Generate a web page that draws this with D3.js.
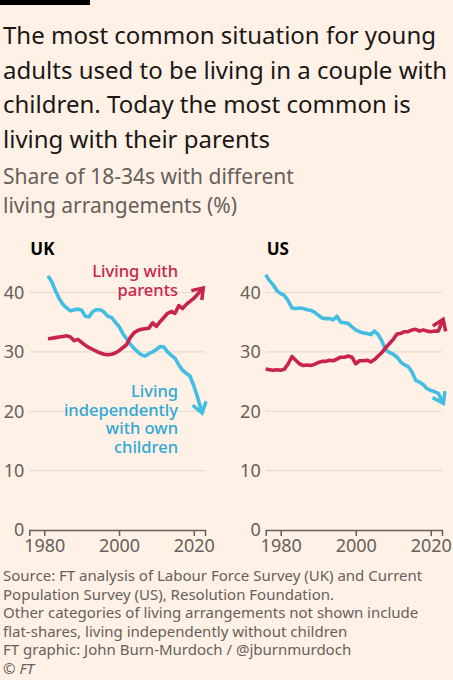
<!DOCTYPE html>
<html>
<head>
<meta charset="utf-8">
<script src="https://cdn.jsdelivr.net/npm/d3@7"></script>
<style>
  body { margin: 0; background: #fff1e5; }
  svg { display: block; font-family: "Noto Sans", sans-serif; }
</style>
</head>
<body>
<div id="chart"></div>
<script>
// tick labels
const yTicks = [0, 10, 20, 30, 40];
const xTicks = [1980, 2000, 2020];

// UK, 1981-2022
const ukYears = d3.range(1981, 2023);
const ukParents = [32.2, 32.3, 32.4, 32.5, 32.6, 32.7, 32.5, 31.9, 32.1, 31.6,
  31.1, 30.7, 30.4, 30.1, 29.8, 29.6, 29.5, 29.6, 29.8, 30.2,
  30.7, 31.2, 32.4, 33.2, 33.6, 33.8, 33.9, 34.0, 34.9, 34.3,
  35.1, 35.8, 36.5, 36.8, 36.5, 37.8, 37.3, 38.0, 38.5, 39.0,
  39.7, 40.4];
const ukOwnChildren = [42.8, 41.8, 40.3, 39.0, 38.0, 37.4, 36.9, 37.1, 37.2, 37.0,
  36.0, 35.9, 36.8, 37.1, 37.1, 36.7, 36.0, 35.8, 35.0, 34.3,
  33.1, 32.2, 31.3, 30.6, 30.0, 29.5, 29.3, 29.7, 30.0, 30.4,
  30.9, 30.8, 30.0, 29.4, 28.9, 27.8, 26.9, 26.4, 25.9, 24.3,
  22.4, 20.2];

// US, 1976-2023
const usYears = d3.range(1976, 2024);
const usParents = [27.1, 27.0, 26.9, 27.0, 26.9, 27.1, 28.0, 29.2, 28.6, 28.0,
  27.7, 27.8, 27.7, 27.9, 28.2, 28.4, 28.4, 28.6, 28.5, 28.8,
  29.1, 29.1, 29.3, 29.1, 28.0, 28.5, 28.5, 28.6, 28.3, 28.7,
  29.3, 29.9, 30.7, 31.4, 32.1, 33.0, 33.1, 33.4, 33.4, 33.7,
  33.8, 33.5, 33.7, 33.5, 33.4, 33.5, 33.5, 35.0];
const usOwnChildren = [43.0, 42.0, 41.3, 40.3, 39.8, 39.5, 38.6, 37.4, 37.3, 37.4,
  37.3, 37.1, 37.0, 36.7, 36.2, 35.7, 35.6, 35.6, 35.4, 36.0,
  35.0, 34.9, 34.8, 34.2, 33.7, 33.4, 33.2, 33.1, 32.9, 33.5,
  32.9, 31.8, 30.3, 29.9, 29.6, 29.1, 28.3, 27.8, 27.5, 26.6,
  25.2, 24.9, 24.5, 23.8, 23.5, 23.3, 23.0, 21.8];

const width = 453, height = 680;
const red = "#c8234c", blue = "#43bde2";
const grey = "#66605c";

const svg = d3.select("#chart").append("svg")
  .attr("width", width)
  .attr("height", height);

svg.append("rect").attr("width", width).attr("height", height).attr("fill", "#fff1e5");
svg.append("rect").attr("width", 90).attr("height", 5).attr("fill", "#000");

// arrow heads
const defs = svg.append("defs");
[["arrow-red", red], ["arrow-blue", blue]].forEach(([id, col]) => {
  defs.append("marker")
    .attr("id", id)
    .attr("markerUnits", "userSpaceOnUse")
    .attr("viewBox", "-14 -10 18 20")
    .attr("markerWidth", 18)
    .attr("markerHeight", 20)
    .attr("refX", -3)
    .attr("refY", 0)
    .attr("orient", "auto")
    .append("path")
    .attr("d", "M-10,-7L0,0L-10,7")
    .attr("fill", "none")
    .attr("stroke", col)
    .attr("stroke-width", 3.5)
    .attr("stroke-linejoin", "miter");
});

const title = ["The most common situation for young",
  "adults used to be living in a couple with",
  "children. Today the most common is",
  "living with their parents"];
svg.append("g").selectAll("text").data(title).join("text")
  .attr("x", 3)
  .attr("y", (d, i) => 44 + i * 34.5)
  .attr("font-size", 24)
  .attr("fill", "#1a1817")
  .text(d => d);

const subtitle = ["Share of 18-34s with different", "living arrangements (%)"];
svg.append("g").selectAll("text").data(subtitle).join("text")
  .attr("x", 3)
  .attr("y", (d, i) => 184 + i * 29)
  .attr("font-size", 21)
  .attr("fill", grey)
  .text(d => d);

const y = d3.scaleLinear().domain([0, 40]).range([530, 292.5]);

function drawPanel(name, left, right, years, parents, ownChildren) {
  const x = d3.scaleLinear().domain([1976, 2023]).range([left, right]);
  const g = svg.append("g");

  g.append("g").selectAll("line").data(yTicks.slice(1)).join("line")
    .attr("x1", left).attr("x2", right)
    .attr("y1", d => y(d)).attr("y2", d => y(d))
    .attr("stroke", "#e6d9ce")
    .attr("stroke-width", 1.2);

  g.append("g").selectAll("text").data(yTicks).join("text")
    .attr("x", left - 5)
    .attr("y", d => y(d))
    .attr("dy", "0.35em")
    .attr("text-anchor", "end")
    .attr("font-size", 18)
    .attr("fill", grey)
    .text(d => d);

  const xAxis = g.append("g")
    .attr("transform", `translate(0,${y(0)})`)
    .call(d3.axisBottom(x).tickValues(xTicks).tickFormat(d3.format("d")).tickSize(6).tickPadding(3));
  xAxis.select(".domain").attr("stroke", grey).attr("stroke-width", 1.5);
  xAxis.selectAll(".tick line").attr("stroke", grey).attr("stroke-width", 1.5);
  xAxis.selectAll(".tick text")
    .attr("font-size", 18)
    .attr("font-family", "Noto Sans, sans-serif")
    .attr("fill", grey);

  svg.append("text")
    .attr("x", left + 1)
    .attr("y", 255)
    .attr("font-size", 17)
    .attr("font-weight", 700)
    .attr("fill", "#000")
    .text(name);

  const line = d3.line()
    .x((d, i) => x(years[i]))
    .y(d => y(d));

  g.append("path")
    .attr("d", line(ownChildren))
    .attr("fill", "none")
    .attr("stroke", blue)
    .attr("stroke-width", 3.6)
    .attr("stroke-linejoin", "round")
    .attr("marker-end", "url(#arrow-blue)");

  g.append("path")
    .attr("d", line(parents))
    .attr("fill", "none")
    .attr("stroke", red)
    .attr("stroke-width", 3.6)
    .attr("stroke-linejoin", "round")
    .attr("marker-end", "url(#arrow-red)");

  return g;
}

const uk = drawPanel("UK", 29.3, 205, ukYears, ukParents, ukOwnChildren);
drawPanel("US", 265.7, 442, usYears, usParents, usOwnChildren);

// UK labels
uk.append("g").selectAll("text").data(["Living with", "parents"]).join("text")
  .attr("x", 178)
  .attr("y", (d, i) => 277 + i * 18.5)
  .attr("text-anchor", "end")
  .attr("font-size", 16.5)
  .attr("font-weight", 500)
  .attr("fill", red)
  .text(d => d);

uk.append("g").selectAll("text").data(["Living", "independently", "with own", "children"]).join("text")
  .attr("x", 178)
  .attr("y", (d, i) => 397 + i * 18.7)
  .attr("text-anchor", "end")
  .attr("font-size", 16.5)
  .attr("font-weight", 500)
  .attr("fill", "#2fa8d6")
  .text(d => d);

const notes = ["Source: FT analysis of Labour Force Survey (UK) and Current",
  "Population Survey (US), Resolution Foundation.",
  "Other categories of living arrangements not shown include",
  "flat-shares, living independently without children",
  "FT graphic: John Burn-Murdoch / @jburnmurdoch"];
svg.append("g").selectAll("text").data(notes).join("text")
  .attr("x", 3)
  .attr("y", (d, i) => 581 + i * 18.6)
  .attr("font-size", 15)
  .attr("fill", grey)
  .text(d => d);

svg.append("text")
  .attr("x", 3)
  .attr("y", 674)
  .attr("font-size", 15)
  .attr("fill", grey)
  .text("© ")
  .append("tspan")
  .attr("font-style", "italic")
  .text("FT");
</script>
</body>
</html>
